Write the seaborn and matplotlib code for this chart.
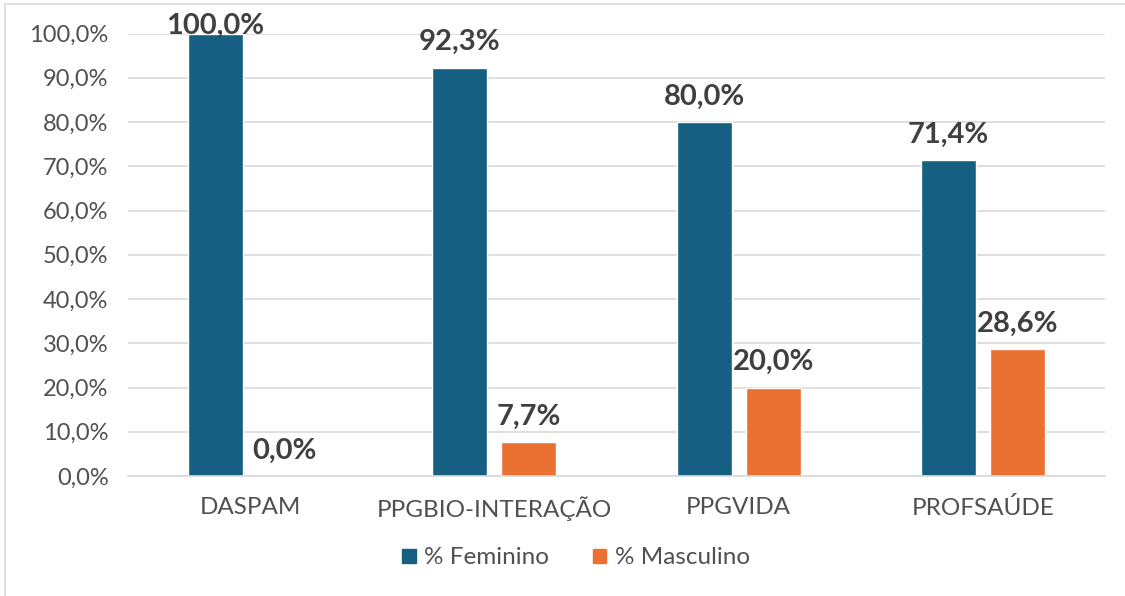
import matplotlib
matplotlib.use("Agg")
import matplotlib.pyplot as plt
import seaborn as sns
import pandas as pd
from matplotlib.patches import Rectangle

# dados do gráfico
programas = ["DASPAM", "PPGBIO-INTERAÇÃO", "PPGVIDA", "PROFSAÚDE"]
feminino = [100.0, 92.3, 80.0, 71.4]
masculino = [0.0, 7.7, 20.0, 28.6]
series = ["% Feminino", "% Masculino"]
cores = ["#156082", "#E97132"]

df = pd.DataFrame({
    "Programa": programas * 2,
    "Sexo": [series[0]] * 4 + [series[1]] * 4,
    "Valor": feminino + masculino,
})

sns.set_theme(style="white")
plt.rcParams["font.family"] = ["Lato", "DejaVu Sans"]

fig = plt.figure(figsize=(11.25, 5.96), dpi=100)
ax = fig.add_axes([128 / 1125, 1 - 476 / 596, (1105 - 128) / 1125, (476 - 33.5) / 596])

sns.barplot(data=df, x="Programa", y="Valor", hue="Sexo", palette=cores,
            width=0.565, gap=0.2, saturation=1, ax=ax, legend=False)

ax.set_ylim(0, 100)
ax.set_xlim(-0.5, 3.5)
ax.set_yticks(range(0, 101, 10))
ax.set_yticklabels([f"{v},0%" for v in range(0, 101, 10)])
ax.yaxis.grid(True, color="#D9D9D9", linewidth=1.2)
ax.set_axisbelow(True)
for s in ["top", "right", "left"]:
    ax.spines[s].set_visible(False)
ax.spines["bottom"].set_color("#D9D9D9")
ax.spines["bottom"].set_linewidth(1.2)
ax.tick_params(axis="y", length=0, pad=14, labelsize=17, labelcolor="#505050")
ax.tick_params(axis="x", length=0, pad=15, labelsize=17.5, labelcolor="#505050")
ax.set_xlabel("")
ax.set_ylabel("")

# rótulos de dados
for cont in ax.containers:
    for bar in cont:
        v = bar.get_height()
        txt = f"{v:.1f}%".replace(".", ",")
        off = 9 if v < 95 else -4
        ax.annotate(txt, (bar.get_x() + bar.get_width() / 2, v),
                    xytext=(0, off), textcoords="offset points",
                    ha="center", va="bottom", fontsize=21,
                    color="#404040", fontweight="bold", annotation_clip=False)

handles = [Rectangle((0, 0), 1, 1, color=c) for c in cores]
fig.legend(handles, series, loc="center", bbox_to_anchor=(576 / 1125, 1 - 558 / 596),
           ncol=2, frameon=False, labelcolor="#505050",
           prop={"size": 17.5},
           handlelength=0.55, handleheight=0.55, handletextpad=0.35, columnspacing=1.8)

# borda da área do gráfico
fig.add_artist(Rectangle((5 / 1125, -0.1), 1.2, 1 - 4 / 596 + 0.1, transform=fig.transFigure,
                         fill=False, edgecolor="#D9D9D9", linewidth=1.2))

fig.savefig("out.png", dpi=100)
